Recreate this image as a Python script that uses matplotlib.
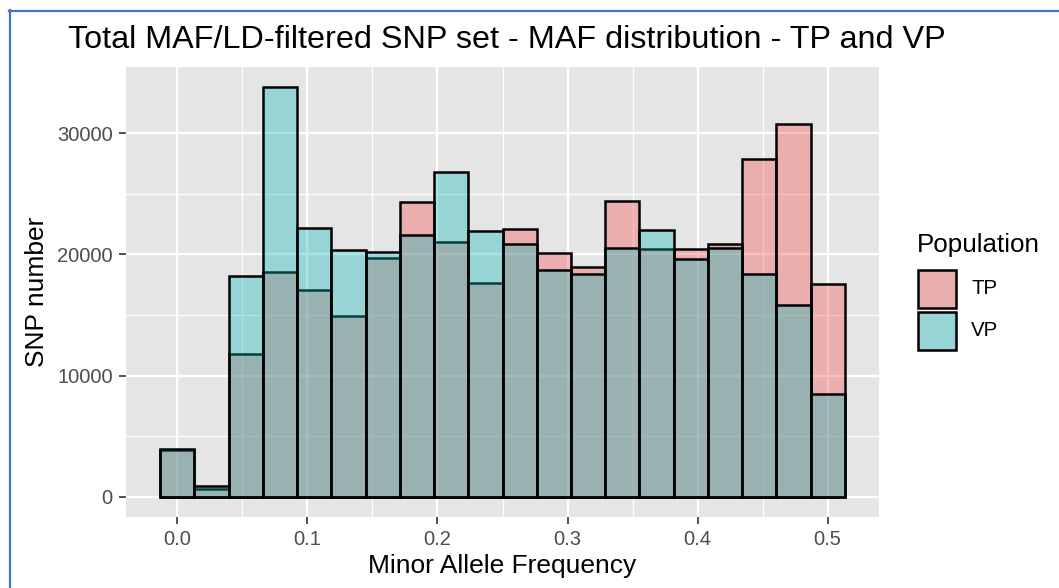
import numpy as np
import matplotlib
matplotlib.use("Agg")
import matplotlib.pyplot as plt
from matplotlib.patches import Rectangle
from matplotlib.lines import Line2D

# ---- data ----
n_bins = 20
maf_min, maf_max = 0.0, 0.5
tp_counts = [3850, 650, 11750, 18550, 17100, 14950, 19750, 24350, 21000, 17650,
             22100, 20150, 18950, 24450, 20450, 20450, 20850, 27900, 30800, 17600]
vp_counts = [3900, 850, 18200, 33800, 22150, 20400, 20200, 21650, 26800, 21900,
             20900, 18700, 18400, 20550, 22000, 19600, 20550, 18400, 15800, 8500]
populations = ["TP", "VP"]
pop_colors = ["#F64848", "#06B7BA"]
x_ticks = [0.0, 0.1, 0.2, 0.3, 0.4, 0.5]
x_ticklabels = ["0.0", "0.1", "0.2", "0.3", "0.4", "0.5"]
y_ticks = [0, 10000, 20000, 30000]
y_ticklabels = ["0", "10000", "20000", "30000"]
title = "Total MAF/LD-filtered SNP set - MAF distribution - TP and VP"
xlabel = "Minor Allele Frequency"
ylabel = "SNP number"
legend_title = "Population"

plt.rcParams['font.family'] = ['Liberation Sans', 'DejaVu Sans']

W, H = 1059, 588
fig = plt.figure(figsize=(W / 100, H / 100), dpi=100)
fig.patch.set_facecolor("white")

BG = "#E5E5E5"
ALPHA = 0.35
L, R, T, B = 126, 879, 67, 517
ax = fig.add_axes([L / W, 1 - B / H, (R - L) / W, (B - T) / H])
ax.set_facecolor(BG)

binw = (maf_max - maf_min) / (n_bins - 1)
centers = maf_min + np.arange(n_bins) * binw
for counts, col in zip([tp_counts, vp_counts], pop_colors):
    rgba = matplotlib.colors.to_rgba(col, ALPHA)
    ax.bar(centers, counts, width=binw, facecolor=rgba, edgecolor="black",
           linewidth=1.8, zorder=3)

lo = maf_min - binw / 2
hi = maf_max + binw / 2
pad = (hi - lo) * 0.05
ax.set_xlim(lo - pad, hi + pad)
ymax = max(max(tp_counts), max(vp_counts))
ax.set_ylim(-ymax * 0.05, ymax * 1.05)

ax.set_xticks(x_ticks)
ax.set_xticklabels(x_ticklabels)
ax.set_yticks(y_ticks)
ax.set_yticklabels(y_ticklabels)
ax.set_xticks([0.05, 0.15, 0.25, 0.35, 0.45], minor=True)
ax.set_yticks([5000, 15000, 25000], minor=True)
ax.grid(True, which="major", color="white", linewidth=1.7, zorder=0)
ax.grid(True, which="minor", color="white", linewidth=0.9, zorder=0)
ax.set_axisbelow(True)
ax.tick_params(which="minor", length=0)
ax.tick_params(which="major", length=5, width=1.2, color="#333333",
               labelcolor="#4D4D4D", labelsize=14.5, pad=4.5)
for s in ax.spines.values():
    s.set_visible(False)

ax.set_xlabel(xlabel, fontsize=19, color="black", labelpad=3.5)
ax.set_ylabel(ylabel, fontsize=19, color="black", labelpad=6)
fig.text(68 / W, 1 - 40 / H, title, fontsize=23.3, ha="left", va="center")

# legend
fig.text(917 / W, 1 - 245 / H, legend_title, fontsize=18.7, ha="left", va="center")
key_y = [270, 312]
for i, (p, col) in enumerate(zip(populations, pop_colors)):
    y0 = key_y[i]
    fig.patches.append(Rectangle((918 / W, 1 - (y0 + 38) / H), 38 / W, 38 / H,
                                 transform=fig.transFigure,
                                 facecolor=BG, edgecolor="none"))
    fig.patches.append(Rectangle((918 / W, 1 - (y0 + 38) / H), 38 / W, 38 / H,
                                 transform=fig.transFigure,
                                 facecolor=matplotlib.colors.to_rgba(col, ALPHA),
                                 edgecolor="black", linewidth=1.8))
    fig.text(971 / W, 1 - (y0 + 19) / H, p, fontsize=14.7, ha="left", va="center")

# screenshot frame
fig.add_artist(Line2D([9 / W, 1], [1 - 11 / H, 1 - 11 / H], transform=fig.transFigure,
                      color="#4472C4", linewidth=1.6))
fig.add_artist(Line2D([10 / W, 10 / W], [0, 1 - 10 / H], transform=fig.transFigure,
                      color="#4472C4", linewidth=1.6))

fig.savefig("out.png", dpi=100)
